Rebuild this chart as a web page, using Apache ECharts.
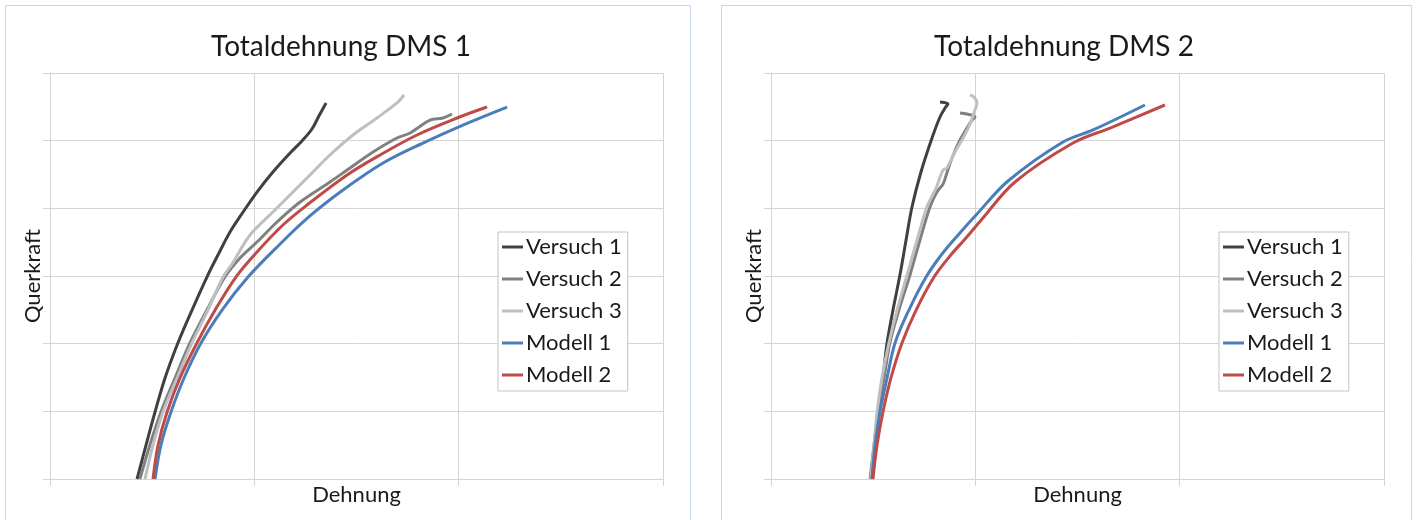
<!DOCTYPE html>
<html>
<head>
<meta charset="utf-8">
<script src="https://cdn.jsdelivr.net/npm/echarts@6/dist/echarts.min.js"></script>
<style>
html,body{margin:0;padding:0;background:#fff;}
#chart{width:1416px;height:520px;}
</style>
</head>
<body>
<div id="chart"></div>
<script>
// ---- data (arbitrary units: x axis 0..3, y axis 0..6) ----
const seriesNames = ['Versuch 1', 'Versuch 2', 'Versuch 3', 'Modell 1', 'Modell 2'];
const titles = ['Totaldehnung DMS 1', 'Totaldehnung DMS 2'];
const xAxisName = 'Dehnung';
const yAxisName = 'Querkraft';

// DMS 1
const dms1_versuch1 = [[0.426,0],[0.470,0.502],[0.514,0.990],[0.563,1.493],[0.626,2.010],[0.695,2.497],[0.768,2.985],[0.822,3.310],[0.881,3.650],[0.945,3.946],[1.013,4.241],[1.091,4.537],[1.175,4.818],[1.233,4.995],[1.282,5.172],[1.316,5.364],[1.351,5.557]];
const dms1_versuch2 = [[0.440,0],[0.489,0.502],[0.543,0.990],[0.612,1.493],[0.685,2.010],[0.768,2.497],[0.856,2.985],[0.930,3.266],[1.013,3.502],[1.111,3.798],[1.224,4.093],[1.370,4.389],[1.454,4.566],[1.581,4.832],[1.698,5.039],[1.762,5.113],[1.860,5.305],[1.923,5.335],[1.967,5.394]];
const dms1_versuch3 = [[0.465,0],[0.504,0.502],[0.553,0.990],[0.622,1.493],[0.695,2.010],[0.773,2.497],[0.847,2.985],[0.891,3.177],[0.979,3.606],[1.091,3.946],[1.189,4.241],[1.282,4.522],[1.370,4.788],[1.483,5.084],[1.600,5.335],[1.698,5.557],[1.733,5.675]];
const dms1_modell1 = [[0.514,0],[0.543,0.502],[0.592,0.990],[0.656,1.493],[0.739,2.010],[0.842,2.497],[0.969,2.985],[1.121,3.458],[1.272,3.887],[1.434,4.271],[1.630,4.670],[1.825,4.965],[2.021,5.231],[2.237,5.497]];
const dms1_modell2 = [[0.504,0],[0.529,0.502],[0.573,0.990],[0.636,1.493],[0.719,2.010],[0.808,2.497],[0.910,2.985],[1.013,3.355],[1.140,3.754],[1.258,4.049],[1.454,4.493],[1.615,4.788],[1.796,5.084],[1.992,5.335],[2.139,5.497]];

// DMS 2
const dms2_versuch1 = [[0.494,0],[0.514,0.502],[0.529,0.990],[0.548,1.493],[0.568,2.010],[0.597,2.497],[0.631,3.015],[0.661,3.532],[0.690,4.020],[0.734,4.537],[0.788,5.039],[0.827,5.350],[0.852,5.483],[0.866,5.542],[0.827,5.571]];
const dms2_versuch2 = [[0.485,0],[0.504,0.502],[0.524,0.990],[0.553,1.493],[0.582,2.010],[0.626,2.497],[0.680,3.015],[0.729,3.532],[0.778,4.020],[0.812,4.241],[0.842,4.359],[0.856,4.478],[0.886,4.744],[0.925,5.010],[0.959,5.187],[0.984,5.305],[0.998,5.350],[0.959,5.394],[0.925,5.409]];
const dms2_versuch3 = [[0.489,0],[0.504,0.502],[0.519,0.990],[0.543,1.493],[0.577,2.010],[0.617,2.497],[0.666,3.015],[0.715,3.532],[0.763,4.020],[0.808,4.300],[0.842,4.566],[0.861,4.596],[0.900,4.832],[0.940,5.039],[0.974,5.246],[0.998,5.453],[1.008,5.557],[0.993,5.645],[0.974,5.675]];
const dms2_modell1 = [[0.494,0],[0.509,0.502],[0.533,0.990],[0.568,1.493],[0.607,2.010],[0.675,2.497],[0.759,2.985],[0.837,3.325],[0.920,3.621],[1.008,3.916],[1.160,4.404],[1.429,4.980],[1.576,5.158],[1.830,5.527]];
const dms2_modell2 = [[0.499,0],[0.519,0.502],[0.548,0.990],[0.587,1.493],[0.641,2.010],[0.710,2.497],[0.798,2.985],[0.876,3.296],[0.954,3.561],[1.033,3.842],[1.194,4.389],[1.478,4.965],[1.659,5.187],[1.928,5.527]];

const colors = ['#404040', '#808080', '#bfbfbf', '#4a7ebb', '#be4b48'];
const panelData = [
  [dms1_versuch1, dms1_versuch2, dms1_versuch3, dms1_modell1, dms1_modell2],
  [dms2_versuch1, dms2_versuch2, dms2_versuch3, dms2_modell1, dms2_modell2]
];

// ---- layout ----
const FONT = 'Lato, "Open Sans", sans-serif';
const gridLeft = [50, 771];
const titleCenter = [336, 1059];
const legendLeft = [498, 1219];
const gridColor = '#d4d4d4';

const chart = echarts.init(document.getElementById('chart'), null, {renderer: 'canvas'});

const option = {
  backgroundColor: '#ffffff',
  animation: false,
  color: colors,
  textStyle: {fontFamily: FONT},
  graphic: [
    {type: 'rect', shape: {x: 5.5, y: 5.5, width: 685, height: 540}, style: {fill: 'none', stroke: '#c9d5ec', lineWidth: 1}, silent: true, z: -1},
    {type: 'rect', shape: {x: 721.5, y: 5.5, width: 690, height: 540}, style: {fill: 'none', stroke: '#c9d5ec', lineWidth: 1}, silent: true, z: -1}
  ],
  title: titles.map((t, i) => ({
    text: t,
    left: titleCenter[i],
    textAlign: 'center',
    top: 28,
    textStyle: {fontFamily: FONT, fontSize: 28, fontWeight: 'normal', color: '#1a1a1a'}
  })),
  legend: [0, 1].map(i => ({
    data: seriesNames,
    orient: 'vertical',
    left: legendLeft[i],
    top: 232,
    padding: [4, 6, 5, 4],
    itemGap: 10,
    itemWidth: 21,
    itemHeight: 3,
    icon: 'rect',
    borderColor: '#c4c4c4',
    borderWidth: 1,
    backgroundColor: '#ffffff',
    textStyle: {fontFamily: FONT, fontSize: 22, color: '#1a1a1a', padding: [0, 0, 0, -2]}
  })),
  grid: [0, 1].map(i => ({left: gridLeft[i], top: 73, width: 613, height: 406})),
  xAxis: [0, 1].map(i => ({
    type: 'value', gridIndex: i, min: 0, max: 3, interval: 1,
    name: xAxisName, nameLocation: 'middle', nameGap: 5,
    nameTextStyle: {fontFamily: FONT, fontSize: 22, color: '#1a1a1a'},
    axisLabel: {show: false},
    axisLine: {show: true, lineStyle: {color: gridColor}},
    axisTick: {show: true, length: 7, lineStyle: {color: gridColor}},
    splitLine: {show: true, lineStyle: {color: gridColor}}
  })),
  yAxis: [0, 1].map(i => ({
    type: 'value', gridIndex: i, min: 0, max: 6, interval: 1,
    name: yAxisName, nameLocation: 'middle', nameGap: 6,
    nameTextStyle: {fontFamily: FONT, fontSize: 22, color: '#1a1a1a'},
    axisLabel: {show: false},
    axisLine: {show: true, lineStyle: {color: gridColor}},
    axisTick: {show: true, length: 7, lineStyle: {color: gridColor}},
    splitLine: {show: true, lineStyle: {color: gridColor}}
  })),
  series: []
};

panelData.forEach((arrs, p) => {
  arrs.forEach((d, k) => {
    option.series.push({
      type: 'line',
      name: seriesNames[k],
      xAxisIndex: p,
      yAxisIndex: p,
      data: d,
      showSymbol: false,
      smooth: 0.35,
      lineStyle: {width: 3, color: colors[k]},
      itemStyle: {color: colors[k]},
      z: 2 + k
    });
  });
});

chart.setOption(option);
</script>
</body>
</html>
